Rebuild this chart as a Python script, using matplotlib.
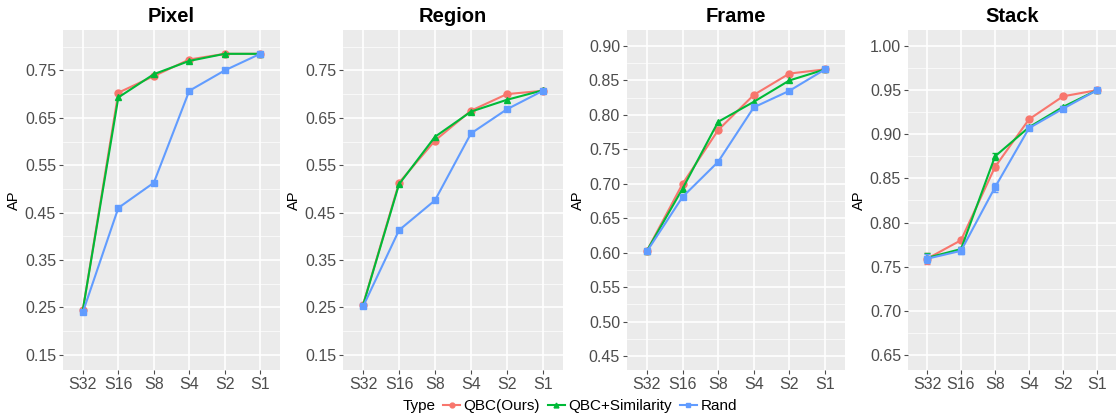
import matplotlib.pyplot as plt
import numpy as np
from matplotlib.lines import Line2D

plt.rcParams['font.family'] = ['Liberation Sans', 'DejaVu Sans']

# categories (x axis)
scales = ['S32', 'S16', 'S8', 'S4', 'S2', 'S1']
methods = ['QBC(Ours)', 'QBC+Similarity', 'Rand']

# AP values per panel
pixel_qbc  = [0.245, 0.703, 0.738, 0.773, 0.785, 0.785]
pixel_sim  = [0.245, 0.693, 0.742, 0.770, 0.785, 0.785]
pixel_rand = [0.240, 0.460, 0.513, 0.707, 0.750, 0.785]

region_qbc  = [0.256, 0.513, 0.602, 0.665, 0.700, 0.707]
region_sim  = [0.255, 0.510, 0.610, 0.663, 0.688, 0.708]
region_rand = [0.252, 0.413, 0.476, 0.617, 0.668, 0.707]

frame_qbc  = [0.603, 0.700, 0.778, 0.829, 0.860, 0.866]
frame_sim  = [0.603, 0.693, 0.790, 0.819, 0.850, 0.866]
frame_rand = [0.602, 0.681, 0.732, 0.811, 0.835, 0.866]

stack_qbc  = [0.759, 0.780, 0.863, 0.917, 0.943, 0.950]
stack_sim  = [0.760, 0.770, 0.875, 0.908, 0.931, 0.950]
stack_rand = [0.759, 0.768, 0.840, 0.907, 0.929, 0.950]
stack_err_qbc  = [0.006, 0.002, 0.004, 0.002, 0.002, 0.001]
stack_err_sim  = [0.005, 0.002, 0.004, 0.002, 0.001, 0.001]
stack_err_rand = [0.005, 0.004, 0.005, 0.002, 0.001, 0.001]

colors  = ['#F8766D', '#00BA38', '#619CFF']
markers = ['o', '^', 's']

panels = [
    ('Pixel',  [pixel_qbc, pixel_sim, pixel_rand], None, (0.118, 0.835), 0.1, 0.15),
    ('Region', [region_qbc, region_sim, region_rand], None, (0.118, 0.835), 0.1, 0.15),
    ('Frame',  [frame_qbc, frame_sim, frame_rand], None, (0.43, 0.923), 0.05, 0.45),
    ('Stack',  [stack_qbc, stack_sim, stack_rand],
     [stack_err_qbc, stack_err_sim, stack_err_rand], (0.633, 1.018), 0.05, 0.65),
]

# axes rectangles in figure fractions
rects = [
    [0.0563, 0.1106, 0.194, 0.817],
    [0.3065, 0.1106, 0.1966, 0.817],
    [0.5603, 0.1106, 0.1948, 0.817],
    [0.8114, 0.1106, 0.186, 0.817],
]

fig = plt.figure(figsize=(11.19, 4.16), dpi=100)
x = np.arange(len(scales))

for (title, series, errs, ylim, step, start), rect in zip(panels, rects):
    ax = fig.add_axes(rect)
    ax.set_facecolor('#EBEBEB')
    for s in ax.spines.values():
        s.set_visible(False)

    majors = np.arange(start, ylim[1] + 1e-9, step)
    minors = np.arange(start - step / 2, ylim[1] + 1e-9, step)
    for m in minors:
        ax.axhline(m, color='white', lw=0.5, zorder=0)
    for m in majors:
        ax.axhline(m, color='white', lw=1.2, zorder=0)
    for xi in x:
        ax.axvline(xi, color='white', lw=1.2, zorder=0)

    for i, vals in enumerate(series):
        ax.plot(x, vals, color=colors[i], lw=1.5, marker=markers[i],
                ms=5, zorder=3)
        if errs is not None:
            ax.errorbar(x, vals, yerr=errs[i], fmt='none', ecolor=colors[i],
                        elinewidth=1.2, capsize=2.5, zorder=3)

    ax.set_xlim(-0.56, 5.56)
    ax.set_ylim(*ylim)
    ax.set_xticks(x)
    ax.set_xticklabels(scales)
    ax.set_yticks(majors)
    ax.set_yticklabels(['%.2f' % v for v in majors])
    ax.tick_params(axis='both', labelsize=11.5, colors='#4D4D4D', length=3,
                   width=0.8, labelcolor='#4D4D4D', pad=2)
    ax.set_ylabel('AP', fontsize=10.5, labelpad=3)
    ax.set_title(title, fontsize=14.5, fontweight='bold', pad=6)

# legend at bottom
fig.text(0.360, 0.024, 'Type', fontsize=11, va='center', ha='left')
handles = [Line2D([0], [0], color=c, lw=1.5, marker=m, ms=3.5)
           for c, m in zip(colors, markers)]
fig.legend(handles, methods, loc='center left', bbox_to_anchor=(0.396, 0.024),
           ncol=3, frameon=False, fontsize=11, handlelength=1.1,
           handletextpad=0.25, columnspacing=0.5, borderaxespad=0, borderpad=0)

fig.savefig('out.png', dpi=100)
